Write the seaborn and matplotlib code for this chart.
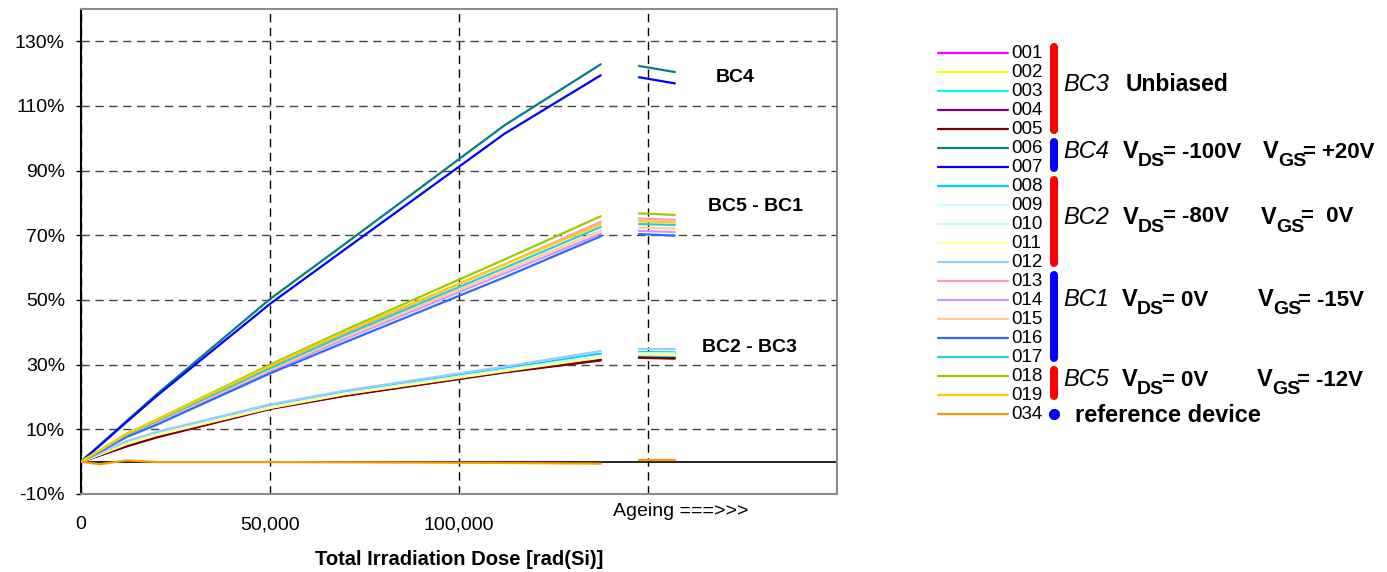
import numpy as np
import pandas as pd
import matplotlib
matplotlib.use("Agg")
import matplotlib.pyplot as plt
import seaborn as sns
from matplotlib.lines import Line2D

# ---------------- data ----------------
devices = ["001", "002", "003", "004", "005", "006", "007", "008", "009", "010",
           "011", "012", "013", "014", "015", "016", "017", "018", "019", "034"]
colors = ["#FF00FF", "#FFFF00", "#00FFFF", "#800080", "#800000", "#008080", "#0000FF",
          "#00CCFF", "#CCFFFF", "#CCFFCC", "#FFFF99", "#99CCFF", "#FF99CC", "#CC99FF",
          "#FFCC99", "#3366FF", "#33CCCC", "#99CC00", "#FFCC00", "#FF9900"]

dose = [0, 5000, 12000, 20000, 50000, 70000, 112000, 137500]   # rad(Si)
ageing_dose = [147600, 157100]

# irradiation curves (% change) per device
irr_values = {
    "001": [0, 2.0, 4.9, 7.7, 16.5, 20.6, 27.8, 31.7],
    "002": [0, 2.1, 5.1, 7.9, 16.6, 20.8, 28.0, 32.0],
    "003": [0, 2.1, 5.0, 7.8, 16.5, 20.7, 27.9, 31.8],
    "004": [0, 2.0, 4.8, 7.6, 16.4, 20.5, 27.7, 31.5],
    "005": [0, 1.9, 4.7, 7.5, 16.3, 20.4, 27.6, 31.3],
    "006": [0, 5.2, 12.5, 20.8, 50.3, 67.5, 104.0, 122.9],
    "007": [0, 5.0, 12.2, 20.3, 48.8, 65.8, 101.4, 119.5],
    "008": [0, 2.5, 6.0, 8.8, 17.2, 21.5, 28.8, 33.4],
    "009": [0, 2.4, 5.8, 8.6, 16.9, 21.2, 28.4, 32.8],
    "010": [0, 2.3, 5.6, 8.4, 16.7, 21.0, 28.2, 32.4],
    "011": [0, 2.2, 5.4, 8.2, 16.6, 20.9, 28.0, 32.2],
    "012": [0, 2.6, 6.3, 9.2, 17.7, 22.0, 29.4, 34.2],
    "013": [0, 3.4, 8.4, 12.7, 29.3, 39.9, 61.0, 74.2],
    "014": [0, 3.2, 7.9, 11.9, 27.9, 38.0, 58.2, 70.5],
    "015": [0, 3.3, 8.1, 12.2, 28.4, 38.7, 59.0, 71.5],
    "016": [0, 3.1, 7.6, 11.4, 27.3, 37.0, 57.0, 69.7],
    "017": [0, 3.4, 8.3, 12.5, 28.9, 39.3, 59.9, 72.6],
    "018": [0, 3.5, 8.6, 13.0, 30.0, 40.8, 62.5, 75.9],
    "019": [0, 3.5, 8.6, 12.9, 29.6, 40.2, 61.0, 73.5],
    "034": [0, -0.8, 0.4, -0.1, -0.1, -0.2, -0.4, -0.6],
}
# ageing segments (% change)
ageing_values = {
    "001": [32.5, 32.3], "002": [32.9, 32.8], "003": [32.6, 32.4], "004": [32.2, 32.0],
    "005": [32.1, 31.9], "006": [122.4, 120.5], "007": [118.9, 117.0],
    "008": [33.9, 33.8], "009": [33.6, 33.5], "010": [33.4, 33.3], "011": [33.2, 33.1],
    "012": [34.8, 34.8], "013": [75.2, 74.8], "014": [71.4, 71.0], "015": [72.4, 72.1],
    "016": [70.4, 69.9], "017": [73.5, 73.2], "018": [76.8, 76.3], "019": [74.4, 74.0],
    "034": [0.4, 0.4],
}

yticks = [-10, 10, 30, 50, 70, 90, 110, 130]
xticks = [0, 50000, 100000, 150000]
xticklabels = ["0", "50,000", "100,000", ""]

group_members = [["001", "002", "003", "004", "005"], ["006", "007"],
                 ["008", "009", "010", "011", "012"], ["013", "014", "015", "016", "017"],
                 ["018", "019"], ["034"]]
group_names = ["BC3", "BC4", "BC2", "BC1", "BC5", ""]

# ---------------- build table ----------------
rows = []
for dev in devices:
    for d, v in zip(dose, irr_values[dev]):
        rows.append((dev, dev + "_irr", d, v))
    for d, v in zip(ageing_dose, ageing_values[dev]):
        rows.append((dev, dev + "_age", d, v))
df = pd.DataFrame(rows, columns=["device", "segment", "dose", "pct"])

# ---------------- figure ----------------
sns.set_theme(style="white")
plt.rcParams["font.family"] = ["Liberation Sans", "DejaVu Sans"]
plt.rcParams["text.color"] = "black"
plt.rcParams["axes.labelcolor"] = "black"
plt.rcParams["xtick.color"] = "black"
plt.rcParams["ytick.color"] = "black"

W, H = 1387, 572
fig = plt.figure(figsize=(W / 100, H / 100), dpi=100)
fig.patch.set_facecolor("white")


def fx(x):
    return x / W


def fy(y):
    return 1 - y / H


ax = fig.add_axes([fx(81), fy(494), (837 - 81) / W, (494 - 9) / H])

palette = dict(zip(devices, colors))
sns.lineplot(data=df, x="dose", y="pct", hue="device", hue_order=devices,
             units="segment", estimator=None, sort=False, palette=palette,
             linewidth=1.6, legend=False, ax=ax, zorder=3)

ax.set_xlim(0, 200000)
ax.set_ylim(-10, 140)
ax.set_yticks(yticks)
ax.set_yticklabels([f"{t}%" for t in yticks])
ax.set_xticks(xticks)
ax.set_xticklabels(xticklabels)
ax.tick_params(axis="y", which="both", length=3.6, width=1, color="black",
               direction="out", pad=8, labelsize=14, left=True, labelcolor="black")
ax.tick_params(axis="x", length=0, pad=16, labelsize=14, labelcolor="black")

ax.set_axisbelow(True)
ax.yaxis.grid(True, linestyle=(0, (6, 4)), color="#444444", linewidth=1.0)
ax.xaxis.grid(True, linestyle=(0, (6, 4)), color="black", linewidth=1.0)
ax.axhline(0, color="black", linewidth=1.2, zorder=2)

for s in ["top", "right", "bottom"]:
    ax.spines[s].set_color("#8c8c8c")
    ax.spines[s].set_linewidth(1.5)
ax.spines["left"].set_color("black")
ax.spines["left"].set_linewidth(1.5)

ax.set_ylabel("")
ax.set_xlabel("Total Irradiation Dose [rad(Si)]", fontsize=14.5, fontweight="bold",
              color="black")
ax.xaxis.set_label_coords(0.5, -0.115)

# in-plot annotations
fig.text(fx(735), fy(78), "BC4", fontsize=14, fontweight="bold", ha="center", va="center")
fig.text(fx(755), fy(206), "BC5 - BC1", fontsize=14, fontweight="bold", ha="center", va="center")
fig.text(fx(749), fy(348), "BC2 - BC3", fontsize=14, fontweight="bold", ha="center", va="center")
fig.text(fx(613), fy(511), "Ageing ===>>>", fontsize=14, ha="left", va="center")

# ---------------- custom legend ----------------
y0, dy = 52.7, 19.0
ypos = {dev: y0 + dy * i for i, dev in enumerate(devices)}
for dev, col in zip(devices, colors):
    y = ypos[dev]
    fig.add_artist(Line2D([fx(938), fx(1008)], [fy(y), fy(y)], color=col, linewidth=1.6))
    fig.text(fx(1011), fy(y + 1), dev, fontsize=13.5, ha="left", va="center")

bar_cols = ["#FF0000", "#0000FF", "#FF0000", "#0000FF", "#FF0000", "#0000FF"]
for members, bc in zip(group_members, bar_cols):
    ytop = ypos[members[0]] - 9.5 + 4
    ybot = ypos[members[-1]] + 5 - 4
    if len(members) == 1:
        fig.add_artist(Line2D([fx(1054)], [fy(ypos[members[0]])], marker="o",
                              markersize=7, color=bc, linestyle="none"))
    else:
        fig.add_artist(Line2D([fx(1054), fx(1054)], [fy(ytop), fy(ybot)], color=bc,
                              linewidth=5.8, solid_capstyle="round"))


# group descriptions
def vsub(x, y, sub, rest, size=16):
    fig.text(fx(x), fy(y), "V", fontsize=size + 1, fontweight="bold", ha="left", va="center")
    fig.text(fx(x + 15), fy(y + 10), sub, fontsize=size - 2, fontweight="bold",
             ha="left", va="center")
    fig.text(fx(x + 40), fy(y), rest, fontsize=size, fontweight="bold", ha="left", va="center")


row_y = [85, 152, 217, 300, 380]
for name, y in zip(group_names[:5], row_y):
    fig.text(fx(1063), fy(y), name, fontsize=17, fontstyle="italic", ha="left", va="center")

fig.text(fx(1126), fy(85), "Unbiased", fontsize=16.5, fontweight="bold", ha="left", va="center")
vsub(1123, 152, "DS", "= -100V")
vsub(1263, 152, "GS", "= +20V")
vsub(1123, 217, "DS", "= -80V")
vsub(1261, 217, "GS", "=  0V")
vsub(1122, 300, "DS", "= 0V")
vsub(1258, 300, "GS", "= -15V")
vsub(1122, 380, "DS", "= 0V")
vsub(1257, 380, "GS", "= -12V")
fig.text(fx(1075), fy(416), "reference device", fontsize=17, fontweight="bold",
         ha="left", va="center")

fig.savefig("out.png", dpi=100, facecolor="white")
